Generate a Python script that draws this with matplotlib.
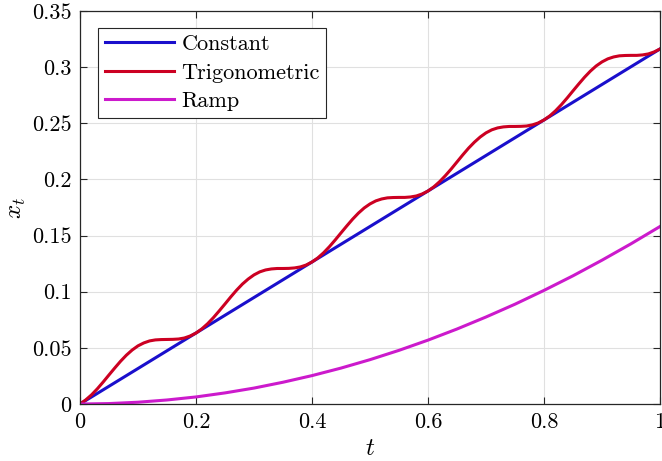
import numpy as np
import matplotlib
matplotlib.use("Agg")
import matplotlib.pyplot as plt

plt.rcParams['font.family'] = 'cmr10'
plt.rcParams['mathtext.fontset'] = 'cm'
plt.rcParams['axes.formatter.use_mathtext'] = True

# time grids
t_const = [0.0, 1.0]
x_const = [0.0, 0.3162]

t_trig = np.linspace(0, 1, 101)
x_trig = [
    0.0000, 0.0037, 0.0082, 0.0136, 0.0196, 0.0259, 0.0321, 0.0381, 0.0435, 0.0481,
    0.0518, 0.0544, 0.0562, 0.0571, 0.0574, 0.0575, 0.0576, 0.0579, 0.0588, 0.0606,
    0.0632, 0.0669, 0.0715, 0.0769, 0.0829, 0.0891, 0.0954, 0.1014, 0.1068, 0.1113,
    0.1150, 0.1177, 0.1194, 0.1203, 0.1207, 0.1207, 0.1208, 0.1212, 0.1221, 0.1238,
    0.1265, 0.1301, 0.1347, 0.1401, 0.1461, 0.1524, 0.1586, 0.1646, 0.1700, 0.1746,
    0.1782, 0.1809, 0.1826, 0.1836, 0.1839, 0.1840, 0.1840, 0.1844, 0.1853, 0.1871,
    0.1897, 0.1934, 0.1980, 0.2034, 0.2093, 0.2156, 0.2219, 0.2279, 0.2332, 0.2378,
    0.2415, 0.2442, 0.2459, 0.2468, 0.2472, 0.2472, 0.2473, 0.2476, 0.2486, 0.2503,
    0.2530, 0.2566, 0.2612, 0.2666, 0.2726, 0.2789, 0.2851, 0.2911, 0.2965, 0.3011,
    0.3047, 0.3074, 0.3091, 0.3101, 0.3104, 0.3105, 0.3105, 0.3109, 0.3118, 0.3136,
    0.3162,
]

t_ramp = np.linspace(0, 1, 21)
x_ramp = [0.0000, 0.0004, 0.0016, 0.0036, 0.0063, 0.0099, 0.0142, 0.0194, 0.0253, 0.0320,
          0.0395, 0.0478, 0.0569, 0.0668, 0.0775, 0.0889, 0.1012, 0.1142, 0.1281, 0.1427,
          0.1581]

labels = ['Constant', 'Trigonometric', 'Ramp']
colors = ['#1a0fcc', '#cc0022', '#cc1acc']

xticks = [0, 0.2, 0.4, 0.6, 0.8, 1]
xticklabels = ['0', '0.2', '0.4', '0.6', '0.8', '1']
yticks = [0, 0.05, 0.1, 0.15, 0.2, 0.25, 0.3, 0.35]
yticklabels = ['0', '0.05', '0.1', '0.15', '0.2', '0.25', '0.3', '0.35']

fig = plt.figure(figsize=(6.62, 4.61), dpi=100)
ax = fig.add_axes([0.1208, 0.1236, 0.8762, 0.8525])

ax.plot(t_const, x_const, color=colors[0], lw=2.2, label=labels[0])
ax.plot(t_trig, x_trig, color=colors[1], lw=2.2, label=labels[1])
ax.plot(t_ramp, x_ramp, color=colors[2], lw=2.2, label=labels[2])

ax.set_xlim(0, 1)
ax.set_ylim(0, 0.35)
ax.set_xticks(xticks)
ax.set_xticklabels(xticklabels)
ax.set_yticks(yticks)
ax.set_yticklabels(yticklabels)
ax.tick_params(direction='in', top=True, right=True, labelsize=16, length=5,
               width=0.8, colors='#262626', pad=6)
for lab in ax.get_xticklabels() + ax.get_yticklabels():
    lab.set_color('black')
ax.grid(True, color='#e0e0e0', lw=0.8)
ax.set_axisbelow(True)
for s in ax.spines.values():
    s.set_color('#262626')
    s.set_linewidth(0.9)

ax.set_xlabel(r'$t$', fontsize=18, labelpad=4)
ax.set_ylabel(r'$x_t$', fontsize=18, labelpad=3)

leg = ax.legend(loc='upper left', bbox_to_anchor=(0.031, 0.957), fontsize=16,
                fancybox=False, framealpha=1, edgecolor='#262626',
                handlelength=3.1, handletextpad=0.35, borderpad=0.3,
                labelspacing=0.4, borderaxespad=0)
leg.get_frame().set_linewidth(0.8)

fig.savefig('out.png', dpi=100)
